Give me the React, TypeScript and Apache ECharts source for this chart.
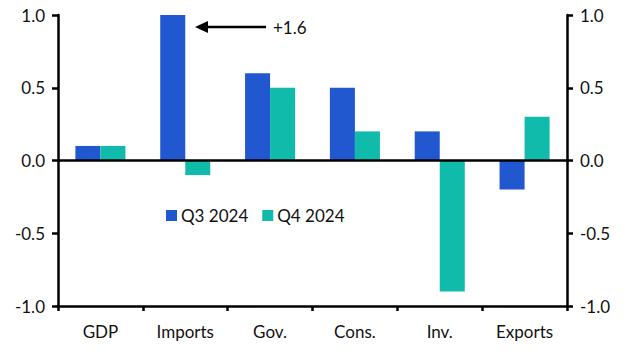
import React, { useEffect, useRef } from "react";
import * as echarts from "echarts";

const categories = ["GDP", "Imports", "Gov.", "Cons.", "Inv.", "Exports"];
const q3Values = [0.1, 1.6, 0.6, 0.5, 0.2, -0.2];
const q4Values = [0.1, -0.1, 0.5, 0.2, -0.9, 0.3];
const seriesNames = ["Q3 2024", "Q4 2024"];
const annotationText = "+1.6";

const FONT = "Lato";
const FS = 17;

export default function App() {
  const ref = useRef<HTMLDivElement>(null);
  useEffect(() => {
    if (!ref.current) return;
    const chart = echarts.init(ref.current, null, { renderer: "svg" });
    const axisLabel = { color: "#111", fontSize: FS, fontFamily: FONT };
    const yCommon = {
      type: "value" as const,
      min: -1,
      max: 1,
      interval: 0.5,
      splitLine: { show: false },
      axisLine: { show: true, onZero: false, lineStyle: { color: "#000", width: 2.5 } },
      axisTick: { show: true, length: 6, lineStyle: { color: "#000", width: 2.5 } },
      axisLabel: { ...axisLabel, formatter: (v: number) => v.toFixed(1), margin: 13 },
    };
    chart.setOption({
      animation: false,
      grid: { left: 58, right: 67, top: 15, bottom: 51 },
      legend: {
        left: 161,
        top: 202,
        itemWidth: 11,
        itemHeight: 11,
        itemGap: 14,
        icon: "rect",
        textStyle: { ...axisLabel, padding: [0, 0, 0, -1] },
        data: seriesNames,
      },
      xAxis: {
        type: "category",
        data: categories,
        axisLine: { onZero: false, lineStyle: { color: "#000", width: 2.5 } },
        axisTick: { show: true, length: 5, lineStyle: { color: "#000", width: 2.5 } },
        axisLabel: { ...axisLabel, margin: 17 },
      },
      yAxis: [
        { ...yCommon, position: "left" },
        { ...yCommon, position: "right" },
      ],
      series: [
        {
          name: seriesNames[0],
          type: "bar",
          data: q3Values,
          itemStyle: { color: "#2158cf" },
          barGap: "0%",
          barCategoryGap: "41%",
          clip: true,
          markLine: {
            silent: true,
            symbol: "none",
            label: { show: false },
            lineStyle: { color: "#000", width: 2.5, type: "solid" },
            data: [{ yAxis: 0 }],
          },
        },
        {
          name: seriesNames[1],
          type: "bar",
          data: q4Values,
          itemStyle: { color: "#10bbac" },
          barGap: "0%",
          barCategoryGap: "41%",
          clip: true,
        },
      ],
      graphic: [
        {
          type: "line",
          shape: { x1: 204, y1: 27, x2: 266, y2: 27 },
          style: { stroke: "#000", lineWidth: 2.5 },
        },
        {
          type: "polygon",
          shape: { points: [[195, 27], [208, 21], [208, 33]] },
          style: { fill: "#000" },
        },
        {
          type: "text",
          x: 273,
          y: 27,
          style: {
            text: annotationText,
            fill: "#111",
            font: `${FS}px "${FONT}"`,
            verticalAlign: "middle",
          },
        },
      ],
    });
    return () => chart.dispose();
  }, []);
  return <div ref={ref} style={{ width: 634, height: 357, margin: -8 }} />;
}
